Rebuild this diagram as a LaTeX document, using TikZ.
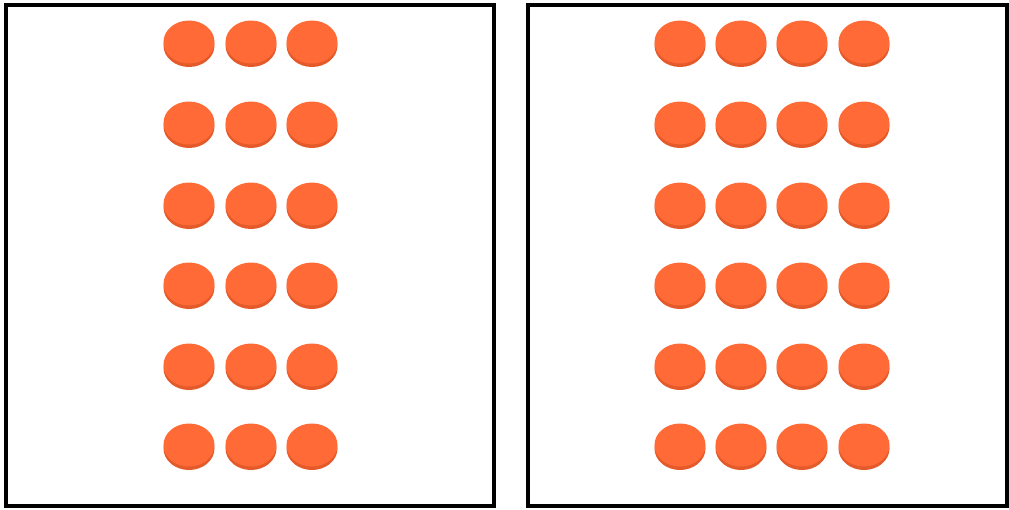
\documentclass[tikz,border=0pt]{standalone}
\definecolor{coinTop}{RGB}{255,106,54}
\definecolor{coinSide}{RGB}{228,90,42}
\tikzset{
  frame/.style={draw=black, line width=3.2pt},
  pics/coin/.style={code={
    \fill[coinSide] (0,2.5) ellipse [x radius=25.5, y radius=21.5];
    \fill[coinTop] (0,-1) ellipse [x radius=25.5, y radius=21.5];
  }}
}
\begin{document}
\begin{tikzpicture}[x=1pt,y=-1pt]
\useasboundingbox (0,0) rectangle (1009,509);
\draw[frame] (6,5) rectangle (494,506);
\draw[frame] (528,5) rectangle (1007,506);
\foreach \y in {43,124,205,285,366,446}{
  \foreach \x in {189,251,312}{
    \pic at (\x,\y) {coin};
  }
  \foreach \x in {680,741,802,864}{
    \pic at (\x,\y) {coin};
  }
}
\end{tikzpicture}
\end{document}
